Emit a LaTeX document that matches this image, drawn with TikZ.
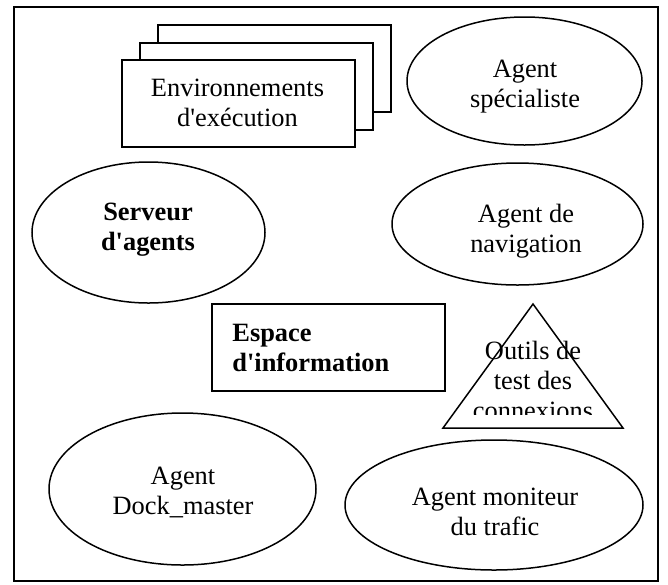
\documentclass[tikz,border=0pt]{standalone}
\usepackage{fontspec}
\setmainfont{Liberation Serif}[Ligatures=TeXOff]
\usetikzlibrary{shapes.geometric}
\begin{document}
\begin{tikzpicture}[x=0.5pt,y=-0.5pt,
  outline/.style={draw,line width=0.75pt},
  agent/.style={outline,ellipse,inner sep=0pt},
  sheet/.style={outline,fill=white,rectangle,inner sep=0pt,anchor=north west,
                minimum width=116.5pt,minimum height=43.5pt},
  caption/.style={font=\fontsize{13.2}{15}\selectfont,align=center,inner sep=0pt},
  boldcaption/.style={caption,font=\fontsize{13.2}{15}\selectfont\bfseries}]
\useasboundingbox (0,0) rectangle (668,584);
% outer frame
\draw[line width=1pt] (14,7) rectangle (658,581);

% stacked execution environments
\node[sheet] (envC) at (157,24) {};
\node[sheet] (envB) at (139,42) {};
\node[sheet] (envA) at (121,59) {};
\node[caption] (envT) at (237.5,102.5) {Environnements\\d'exécution};

% agents
\node[agent,minimum width=117.5pt,minimum height=64pt] (spec) at (524.5,81) {};
\node[caption] (specT) at (525,87) {Agent\\spécialiste};

\node[agent,minimum width=116.5pt,minimum height=70.5pt] (serv) at (148.5,232.5) {};
\node[boldcaption] (servT) at (148,230) {Serveur\\d'agents};

\node[agent,minimum width=125.5pt,minimum height=61pt] (nav) at (517.5,224) {};
\node[caption] (navT) at (526,231) {Agent de\\navigation};

\node[agent,minimum width=133.5pt,minimum height=76pt] (dock) at (182.5,489) {};
\node[caption] (dockT) at (183,492) {Agent\\Dock\_master};

\node[agent,minimum width=149pt,minimum height=65pt] (mon) at (494,505) {};
\node[caption] (monT) at (495,511.5) {Agent moniteur\\du trafic};

% information space
\node[outline,rectangle,inner sep=0pt,anchor=north west,
      minimum width=116.5pt,minimum height=43.5pt] (esp) at (211,303) {};
\node[boldcaption,align=left,anchor=west] (espT) at (232,347.5) {Espace\\d'information};

% connection test tools
\coordinate (triTop) at (533,304);
\coordinate (triLeft) at (443,428);
\coordinate (triRight) at (623,428);
\draw[outline] (triTop) -- (triLeft) -- (triRight) -- cycle;
\begin{scope}
  \clip (430,320) rectangle (640,414);
  \node[caption] (triT) at (533,380) {Outils de\\test des\\connexions};
\end{scope}
\end{tikzpicture}
\end{document}
